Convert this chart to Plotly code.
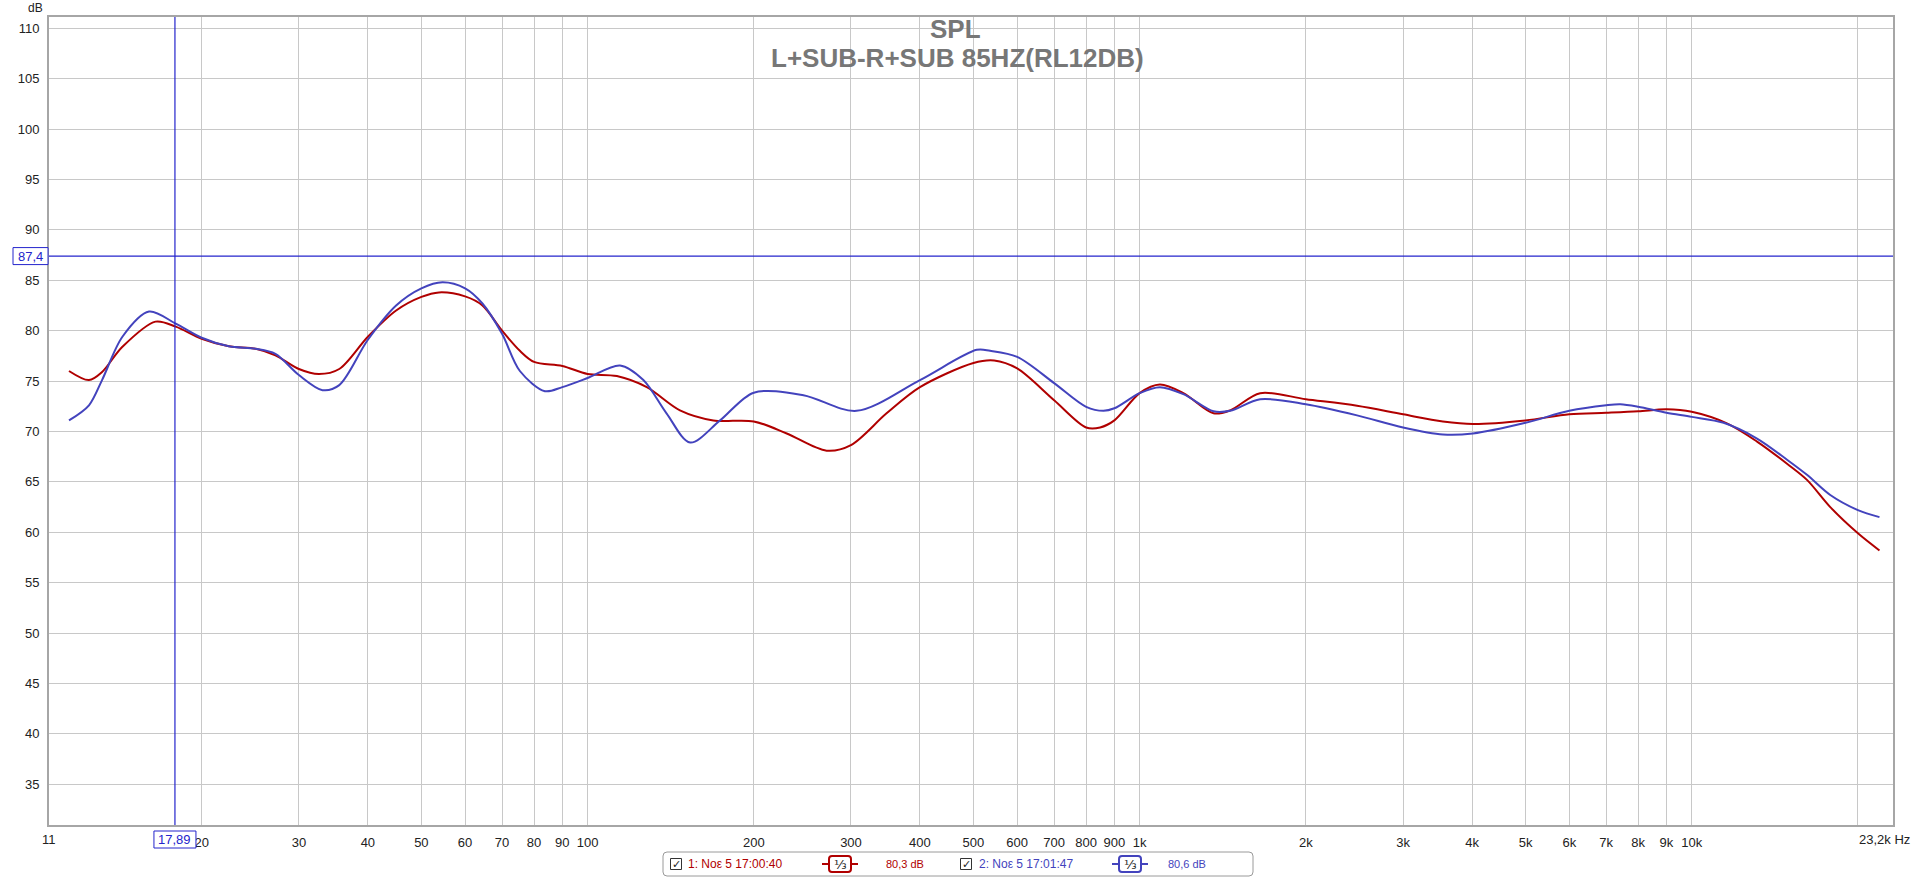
import numpy as np
import plotly.graph_objects as go

# ---------------- data ----------------
freq_red = [11.5, 12.5, 13.2, 14.37, 16.5, 17.95, 20, 22.4, 25.06, 27.2, 30, 32.6, 35.5, 40, 45, 50, 53.8, 60,
            64.5, 70, 75.4, 80, 90, 100, 113, 128, 147, 169, 200, 229.5, 271, 300, 348, 400, 500, 545, 600, 700,
            800, 848, 900, 1000, 1088, 1200, 1361, 1459, 1653, 2000, 2476, 3000, 3542, 4014, 5000, 6000, 7000,
            8000, 9000, 10000, 11580, 13130, 14880, 16170, 17820, 20000, 21880]
spl_red = [76.0, 75.1, 75.9, 78.4, 80.9, 80.4, 79.2, 78.45, 78.2, 77.55, 76.2, 75.7, 76.2, 79.4, 82.0, 83.35, 83.8, 83.4,
           82.5, 80.0, 78.0, 76.9, 76.5, 75.7, 75.5, 74.4, 72.1, 71.1, 71.0, 69.8, 68.1, 68.65, 71.8, 74.4, 76.8, 77.05,
           76.26, 73.1, 70.4, 70.4, 71.1, 73.8, 74.65, 73.8, 71.8, 72.1, 73.8, 73.2, 72.55, 71.7, 71.0, 70.75, 71.1,
           71.7, 71.85, 72.0, 72.2, 71.95, 70.8, 69.0, 66.8, 65.2, 62.5, 59.9, 58.2]

freq_blue = [11.5, 12.5, 13.2, 14.37, 16.06, 17.95, 20, 22.4, 25.06, 27.2, 30, 33.1, 35.5, 40, 45, 50, 54.6, 60,
             64.5, 70, 75.4, 83.7, 90, 100, 114.5, 126.2, 139, 153.4, 173.8, 200, 246, 307, 400, 507, 536, 600,
             700, 800, 860, 900, 1000, 1088, 1200, 1361, 1459, 1653, 2000, 2476, 3000, 3542, 4014, 5000, 6000,
             7000, 7423, 8000, 9000, 10000, 11420, 13130, 14880, 16170, 17820, 20000, 21880]
spl_blue = [71.1, 72.6, 75.1, 79.4, 81.9, 80.7, 79.3, 78.45, 78.2, 77.7, 75.6, 74.1, 74.6, 79.1, 82.5, 84.2, 84.8, 84.2,
            82.7, 79.7, 76.0, 74.0, 74.4, 75.3, 76.55, 75.1, 71.8, 68.9, 71.1, 73.85, 73.6, 72.05, 75.1, 78.1, 78.0,
            77.4, 74.8, 72.45, 72.05, 72.3, 73.8, 74.4, 73.7, 72.0, 72.05, 73.2, 72.7, 71.6, 70.4, 69.7, 69.8, 70.86,
            72.05, 72.6, 72.7, 72.45, 71.85, 71.45, 70.86, 69.3, 67.2, 65.7, 63.7, 62.2, 61.5]

x_tick_vals = [20, 30, 40, 50, 60, 70, 80, 90, 100, 200, 300, 400, 500, 600, 700, 800, 900,
               1000, 2000, 3000, 4000, 5000, 6000, 7000, 8000, 9000, 10000, 20000]
x_tick_text = ["20", "30", "40", "50", "60", "70", "80", "90", "100", "200", "300", "400", "500", "600", "700",
               "800", "900", "1k", "2k", "3k", "4k", "5k", "6k", "7k", "8k", "9k", "10k", ""]
y_tick_vals = list(range(35, 111, 5))

x_min_hz, x_max_hz = 10.58, 23150
y_min, y_max = 30.96, 111.12
cursor_hz, cursor_db = 17.89, 87.4

title_1 = "SPL"
title_2 = "L+SUB-R+SUB 85HZ(RL12DB)"
legend_names = ["1: Νοε 5 17:00:40", "2: Νοε 5 17:01:47"]
legend_levels = ["80,3 dB", "80,6 dB"]

RED = "#B00000"
BLUE = "#4343BD"
CURSOR = "#2424CC"
FONT = "Liberation Sans, Arial, sans-serif"

# ---------------- layout geometry (pixels) ----------------
W_FIG, H_FIG = 1916, 878
L, R, T, B = 49, 1893, 17, 825
PW, PH = R - L, B - T
DECADE_PX = PW / (np.log10(x_max_hz) - np.log10(x_min_hz))


def px_x(x):
    return (x - L) / PW


def px_y(y):
    return (B - y) / PH


fig = go.Figure()
fig.add_trace(go.Scatter(x=freq_red, y=spl_red, mode="lines",
                         line=dict(color=RED, width=2, shape="spline", smoothing=0.9),
                         name=legend_names[0], hoverinfo="skip"))
fig.add_trace(go.Scatter(x=freq_blue, y=spl_blue, mode="lines",
                         line=dict(color=BLUE, width=2, shape="spline", smoothing=0.9),
                         name=legend_names[1], hoverinfo="skip"))

shapes = []
annotations = []

# cursor lines (shapes on a log axis take data values; annotations take log values)
lx = np.log10(cursor_hz)
shapes.append(dict(type="line", xref="x", yref="paper", x0=cursor_hz, x1=cursor_hz, y0=0, y1=1,
                   line=dict(color=CURSOR, width=1.2), layer="above"))
shapes.append(dict(type="line", xref="paper", yref="y", x0=0, x1=1, y0=cursor_db, y1=cursor_db,
                   line=dict(color=CURSOR, width=1.2), layer="above"))
# cursor value box under the x axis
half_w = 21
shapes.append(dict(type="rect", xref="x", yref="paper",
                   x0=cursor_hz * 10 ** (-half_w / DECADE_PX), x1=cursor_hz * 10 ** (half_w / DECADE_PX),
                   y0=px_y(831), y1=px_y(848),
                   line=dict(color=CURSOR, width=1), fillcolor="white", layer="above"))
annotations.append(dict(x=lx, xref="x", y=px_y(839.5), yref="paper", text="17,89", showarrow=False,
                        xanchor="center", yanchor="middle", font=dict(family=FONT, size=13, color=CURSOR)))
# cursor value box left of the y axis
shapes.append(dict(type="rect", xref="paper", yref="y",
                   x0=px_x(13), x1=px_x(48),
                   y0=cursor_db - 8.5 * (y_max - y_min) / PH, y1=cursor_db + 8.5 * (y_max - y_min) / PH,
                   line=dict(color=CURSOR, width=1), fillcolor="white", layer="above"))
annotations.append(dict(x=px_x(30.5), xref="paper", y=cursor_db, yref="y", text="87,4", showarrow=False,
                        xanchor="center", yanchor="middle", font=dict(family=FONT, size=13, color=CURSOR)))

# titles
annotations.append(dict(x=px_x(955), y=px_y(29.5), xref="paper", yref="paper", text="<b>%s</b>" % title_1,
                        showarrow=False, xanchor="center", yanchor="middle", borderpad=0,
                        font=dict(family=FONT, size=26, color="#777777")))
annotations.append(dict(x=px_x(957), y=px_y(58.5), xref="paper", yref="paper", text="<b>%s</b>" % title_2,
                        showarrow=False, xanchor="center", yanchor="middle", borderpad=0,
                        font=dict(family=FONT, size=26, color="#777777")))

# axis end labels
annotations.append(dict(x=px_x(35), y=px_y(8), xref="paper", yref="paper", text="dB", showarrow=False,
                        xanchor="center", yanchor="middle", font=dict(family=FONT, size=12, color="#222222")))
annotations.append(dict(x=px_x(49), y=px_y(840), xref="paper", yref="paper", text="11", showarrow=False,
                        xanchor="center", yanchor="middle", font=dict(family=FONT, size=13, color="#222222")))
annotations.append(dict(x=px_x(1912), y=px_y(840), xref="paper", yref="paper", text="23,2k Hz", showarrow=False,
                        xanchor="right", yanchor="middle", font=dict(family=FONT, size=13, color="#222222")))

# custom legend bar
bx0, bx1, by0, by1, rr = 663, 1253, 852, 876, 4
X0, X1, Y0, Y1 = px_x(bx0), px_x(bx1), px_y(by0), px_y(by1)
rx, ry = rr / PW, rr / PH
path = (f"M {X0+rx},{Y0} L {X1-rx},{Y0} Q {X1},{Y0} {X1},{Y0-ry} L {X1},{Y1+ry} Q {X1},{Y1} {X1-rx},{Y1} "
        f"L {X0+rx},{Y1} Q {X0},{Y1} {X0},{Y1+ry} L {X0},{Y0-ry} Q {X0},{Y0} {X0+rx},{Y0} Z")
shapes.append(dict(type="path", xref="paper", yref="paper", path=path,
                   line=dict(color="#9a9a9a", width=1), fillcolor="white", layer="above"))

cy = 864
legend_items = [
    dict(cb=676, txt=686, sym0=822, sym1=858, lvl=884, color=RED),
    dict(cb=966, txt=977, sym0=1112, sym1=1148, lvl=1166, color=BLUE),
]
for i, it in enumerate(legend_items):
    # checkbox
    shapes.append(dict(type="rect", xref="paper", yref="paper",
                       x0=px_x(it["cb"] - 5.5), x1=px_x(it["cb"] + 5.5), y0=px_y(cy - 5.5), y1=px_y(cy + 5.5),
                       line=dict(color="#333333", width=1), fillcolor="white", layer="above"))
    annotations.append(dict(x=px_x(it["cb"]), y=px_y(cy), xref="paper", yref="paper", text="✓",
                            showarrow=False, xanchor="center", yanchor="middle",
                            font=dict(family="DejaVu Sans", size=11, color="#222222")))
    annotations.append(dict(x=px_x(it["txt"]), y=px_y(cy), xref="paper", yref="paper", text=legend_names[i],
                            showarrow=False, xanchor="left", yanchor="middle",
                            font=dict(family=FONT, size=12, color=it["color"])))
    # 1/3 smoothing symbol
    shapes.append(dict(type="line", xref="paper", yref="paper", x0=px_x(it["sym0"]), x1=px_x(it["sym1"]),
                       y0=px_y(cy), y1=px_y(cy), line=dict(color=it["color"], width=2), layer="above"))
    mid = (it["sym0"] + it["sym1"]) / 2
    sx0, sx1, sy0, sy1, sr = mid - 11, mid + 11, cy - 8, cy + 8, 3
    SX0, SX1, SY0, SY1 = px_x(sx0), px_x(sx1), px_y(sy0), px_y(sy1)
    srx, sry = sr / PW, sr / PH
    spath = (f"M {SX0+srx},{SY0} L {SX1-srx},{SY0} Q {SX1},{SY0} {SX1},{SY0-sry} L {SX1},{SY1+sry} "
             f"Q {SX1},{SY1} {SX1-srx},{SY1} L {SX0+srx},{SY1} Q {SX0},{SY1} {SX0},{SY1+sry} "
             f"L {SX0},{SY0-sry} Q {SX0},{SY0} {SX0+srx},{SY0} Z")
    shapes.append(dict(type="path", xref="paper", yref="paper", path=spath,
                       line=dict(color=it["color"], width=2), fillcolor="white", layer="above"))
    annotations.append(dict(x=px_x(mid), y=px_y(cy), xref="paper", yref="paper", text="⅓",
                            showarrow=False, xanchor="center", yanchor="middle",
                            font=dict(family="DejaVu Sans", size=13, color="#222222")))
    annotations.append(dict(x=px_x(it["lvl"]), y=px_y(cy), xref="paper", yref="paper", text=legend_levels[i],
                            showarrow=False, xanchor="left", yanchor="middle",
                            font=dict(family=FONT, size=11, color=it["color"])))

fig.update_layout(
    width=W_FIG, height=H_FIG,
    margin=dict(l=L, r=W_FIG - R, t=T, b=H_FIG - B, pad=0),
    paper_bgcolor="white", plot_bgcolor="white",
    showlegend=False,
    shapes=shapes, annotations=annotations,
    font=dict(family=FONT, size=13, color="#222222"),
)
fig.update_xaxes(type="log", range=[np.log10(x_min_hz), np.log10(x_max_hz)],
                 tickmode="array", tickvals=x_tick_vals, ticktext=x_tick_text,
                 showgrid=True, gridcolor="#c8c8c8", gridwidth=1,
                 showline=True, linecolor="#a6a6a6", linewidth=2, mirror=True,
                 ticks="outside", ticklen=4, tickcolor="rgba(0,0,0,0)",
                 tickfont=dict(family=FONT, size=13, color="#222222"), zeroline=False, fixedrange=True)
fig.update_yaxes(range=[y_min, y_max], tickmode="array", tickvals=y_tick_vals,
                 showgrid=True, gridcolor="#c8c8c8", gridwidth=1,
                 showline=True, linecolor="#a6a6a6", linewidth=2, mirror=True,
                 ticks="outside", ticklen=5, tickcolor="rgba(0,0,0,0)",
                 tickfont=dict(family=FONT, size=13, color="#222222"), zeroline=False, fixedrange=True)

fig.write_html("out.html", config={"displayModeBar": False},
               post_script="document.body.style.margin='0';document.body.style.overflow='hidden';")
